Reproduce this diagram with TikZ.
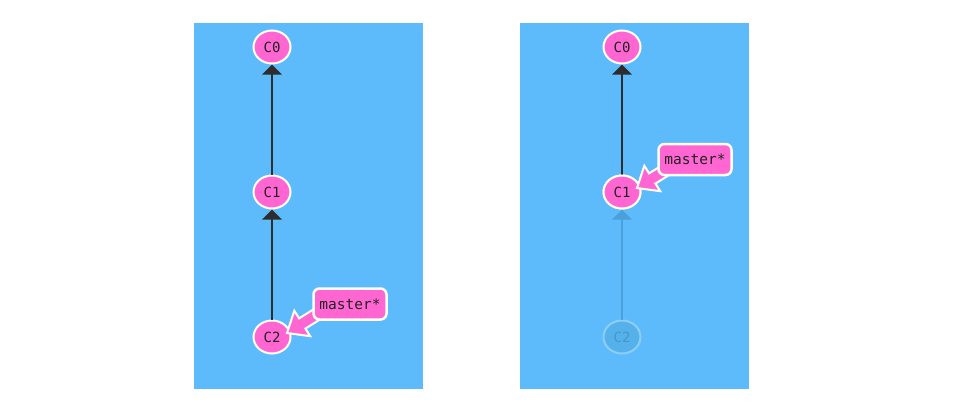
\documentclass[tikz,border=0pt]{standalone}
\usepackage{fontspec}
\newfontfamily\gitmono{DejaVu Sans Mono}
\usetikzlibrary{shapes.geometric,arrows.meta,calc}
\definecolor{panelbg}{RGB}{93,187,252}
\definecolor{gitpink}{RGB}{255,102,210}
\definecolor{ink}{RGB}{34,34,34}
\definecolor{fadefill}{RGB}{84,177,234}
\definecolor{fadeline}{RGB}{140,206,247}
\definecolor{fadetext}{RGB}{72,150,204}
\definecolor{fadearrow}{RGB}{74,160,218}
\tikzset{
  commit/.style={ellipse, fill=gitpink, draw=white, line width=2pt,
    minimum width=37pt, minimum height=33pt, inner sep=0pt, text=ink,
    font=\gitmono\fontsize{14}{16}\selectfont},
  fadedcommit/.style={commit, fill=fadefill, draw=fadeline, text=fadetext},
  branchbox/.style={rectangle, rounded corners=6pt, fill=gitpink, draw=white,
    line width=2.5pt, minimum width=73pt, minimum height=31pt, inner sep=0pt,
    text=ink, font=\gitmono\fontsize{14.5}{17}\selectfont},
  parentlink/.style={draw=ink!95, line width=2.5pt,
    -{Triangle[width=19pt,length=10pt]}},
  fadedlink/.style={parentlink, draw=fadearrow},
  brancharrow/.style={fill=gitpink, draw=white, line width=2pt}
}
\newcommand{\brancharrowshape}[1]{%
  \begin{scope}[shift={(#1)}, rotate=32]
    \draw[brancharrow] (0,0) -- (18,15) -- (18,6) -- (52,6) -- (52,-6)
      -- (18,-6) -- (18,-15) -- cycle;
  \end{scope}}
\begin{document}
\begin{tikzpicture}[x=1pt,y=-1pt]
\useasboundingbox (0,0) rectangle (969,407);
\fill[white] (0,0) rectangle (969,407);
% panels
\fill[panelbg] (194,23) rectangle (423,389);
\fill[panelbg] (520,23) rectangle (749,389);

% ---- left panel ----
\node[commit] (L0) at (272,47) {C0};
\node[commit] (L1) at (272,192) {C1};
\node[commit] (L2) at (272,337) {C2};
\draw[parentlink] (L1.north) -- (L0.south);
\draw[parentlink] (L2.north) -- (L1.south);
\coordinate (LT) at ($(L2.center)+(15,-4)$);
\brancharrowshape{LT}
\node[branchbox] (LB) at (350,304) {master*};

% ---- right panel ----
\node[commit] (R0) at (622,47) {C0};
\node[commit] (R1) at (622,192) {C1};
\node[fadedcommit] (R2) at (622,337) {C2};
\draw[parentlink] (R1.north) -- (R0.south);
\draw[fadedlink] (R2.north) -- (R1.south);
\node[commit] at (R1) {C1};
\coordinate (RT) at ($(R1.center)+(15,-4)$);
\brancharrowshape{RT}
\node[branchbox] (RB) at (695,159.5) {master*};
\end{tikzpicture}
\end{document}
